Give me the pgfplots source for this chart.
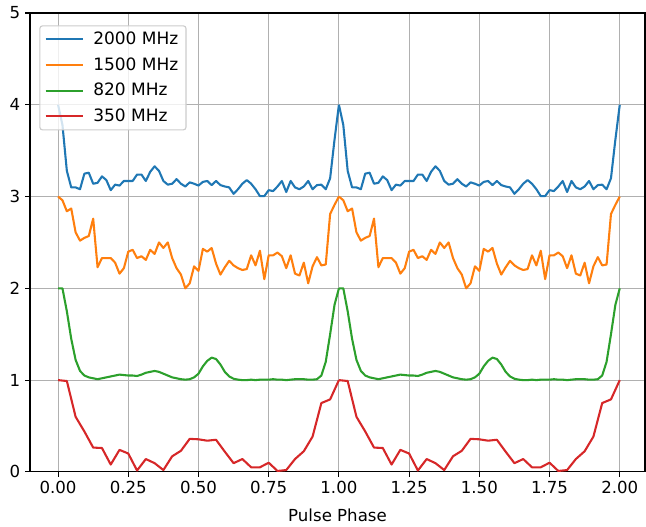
\documentclass[border=0pt]{standalone}
\usepackage{pgfplots}
\usepackage{pgfplotstable}
\pgfplotsset{compat=1.18}
\usepackage{fontspec}
\setmainfont{DejaVu Sans}
\definecolor{cA}{HTML}{1F77B4}
\definecolor{cB}{HTML}{FF7F0E}
\definecolor{cC}{HTML}{2CA02C}
\definecolor{cD}{HTML}{D62728}
\definecolor{gridgray}{HTML}{B0B0B0}
\definecolor{legframe}{HTML}{CCCCCC}

% one rotation (phase 0..1), 64 bins
\pgfplotstableread{
p blue orange green
0.000000 4.00 3.00 2.000
0.015625 3.78 2.96 2.000
0.031250 3.28 2.84 1.750
0.046875 3.10 2.87 1.450
0.062500 3.10 2.61 1.220
0.078125 3.08 2.52 1.100
0.093750 3.25 2.55 1.050
0.109375 3.26 2.57 1.030
0.125000 3.14 2.76 1.020
0.140625 3.15 2.23 1.010
0.156250 3.22 2.33 1.020
0.171875 3.18 2.33 1.030
0.187500 3.07 2.33 1.040
0.203125 3.13 2.28 1.050
0.218750 3.12 2.16 1.060
0.234375 3.17 2.22 1.055
0.250000 3.17 2.40 1.050
0.265625 3.17 2.42 1.050
0.281250 3.24 2.33 1.045
0.296875 3.24 2.35 1.060
0.312500 3.17 2.31 1.080
0.328125 3.27 2.42 1.090
0.343750 3.33 2.375 1.100
0.359375 3.28 2.50 1.090
0.375000 3.17 2.44 1.070
0.390625 3.13 2.50 1.050
0.406250 3.14 2.33 1.030
0.421875 3.19 2.22 1.020
0.437500 3.14 2.15 1.010
0.453125 3.11 2.00 1.005
0.468750 3.155 2.055 1.010
0.484375 3.14 2.24 1.030
0.500000 3.12 2.19 1.070
0.515625 3.16 2.43 1.150
0.531250 3.17 2.40 1.210
0.546875 3.125 2.44 1.245
0.562500 3.17 2.27 1.230
0.578125 3.125 2.15 1.170
0.593750 3.11 2.23 1.090
0.609375 3.10 2.30 1.040
0.625000 3.03 2.25 1.015
0.640625 3.08 2.22 1.005
0.656250 3.14 2.20 1.000
0.671875 3.18 2.21 1.000
0.687500 3.14 2.36 1.005
0.703125 3.08 2.25 1.000
0.718750 3.005 2.41 1.005
0.734375 3.005 2.10 1.005
0.750000 3.07 2.36 1.005
0.765625 3.06 2.36 1.010
0.781250 3.11 2.39 1.005
0.796875 3.17 2.35 1.005
0.812500 3.05 2.22 1.000
0.828125 3.17 2.36 1.005
0.843750 3.10 2.16 1.010
0.859375 3.08 2.14 1.010
0.875000 3.11 2.28 1.010
0.890625 3.17 2.055 1.005
0.906250 3.08 2.24 1.005
0.921875 3.125 2.34 1.010
0.937500 3.13 2.25 1.050
0.953125 3.08 2.26 1.200
0.968750 3.20 2.81 1.500
0.984375 3.62 2.91 1.820
1.000000 4.00 3.00 2.000
}\profA

% one rotation, 32 bins (350 MHz)
\pgfplotstableread{
p red
0.00000 1.00
0.03125 0.99
0.06250 0.60
0.09375 0.44
0.12500 0.265
0.15625 0.26
0.18750 0.08
0.21875 0.24
0.25000 0.20
0.28125 0.015
0.31250 0.14
0.34375 0.095
0.37500 0.02
0.40625 0.17
0.43750 0.23
0.46875 0.36
0.50000 0.355
0.53125 0.34
0.56250 0.35
0.59375 0.22
0.62500 0.095
0.65625 0.14
0.68750 0.05
0.71875 0.05
0.75000 0.10
0.78125 0.01
0.81250 0.02
0.84375 0.14
0.87500 0.225
0.90625 0.385
0.93750 0.75
0.96875 0.79
1.00000 1.00
}\profB

\begin{document}
\begin{tikzpicture}
\begin{axis}[
  name=ax,
  scale only axis,
  width=443bp, height=330.5bp,
  xmin=-0.1, xmax=2.09, ymin=0, ymax=5,
  xtick={0,0.25,...,2.0},
  ytick={0,1,2,3,4,5},
  xticklabel style={/pgf/number format/.cd, fixed, fixed zerofill, precision=2},
  /pgf/number format/assume math mode=true,
  tick label style={font=\fontsize{12}{14}\selectfont},
  label style={font=\fontsize{12}{14}\selectfont},
  xlabel={Pulse Phase},
  xlabel style={yshift=-3.5bp},
  grid=major,
  major grid style={color=gridgray, line width=0.8bp},
  axis line style={line width=0.8bp, black},
  tick style={line width=0.8bp, black},
  major tick length=3.5bp,
  tick align=outside,
  xtick pos=bottom, ytick pos=left,
  legend cell align=left,
  legend style={at={(0,1)}, anchor=north west, xshift=6.7bp, yshift=-8.8bp,
    draw=legframe, line width=0.8bp, rounded corners=2bp, fill=white, fill opacity=0.8, text opacity=1,
    inner xsep=3.5bp, inner ysep=2.5bp, row sep=3.9bp, column sep=4.5bp,
    font=\fontsize{12.3}{14}\selectfont},
  legend image code/.code={\draw[line width=1.5bp] (0bp,0bp) -- (27bp,0bp);},
  every axis plot/.append style={line width=1.5bp, line join=round},
]
\addplot[cA] table[x=p, y=blue] {\profA};
\addlegendentry{2000 MHz}
\addplot[cB] table[x=p, y=orange] {\profA};
\addlegendentry{1500 MHz}
\addplot[cC] table[x=p, y=green] {\profA};
\addlegendentry{820 MHz}
\addplot[cD] table[x=p, y=red] {\profB};
\addlegendentry{350 MHz}
\addplot[cA, forget plot] table[x expr=\thisrow{p}+1, y=blue] {\profA};
\addplot[cB, forget plot] table[x expr=\thisrow{p}+1, y=orange] {\profA};
\addplot[cC, forget plot] table[x expr=\thisrow{p}+1, y=green] {\profA};
\addplot[cD, forget plot] table[x expr=\thisrow{p}+1, y=red] {\profB};
\end{axis}
\path ([xshift=-21.6bp,yshift=-39.6bp]ax.south west) rectangle ([xshift=0.7bp,yshift=9.4bp]ax.north east);
\end{tikzpicture}
\end{document}
